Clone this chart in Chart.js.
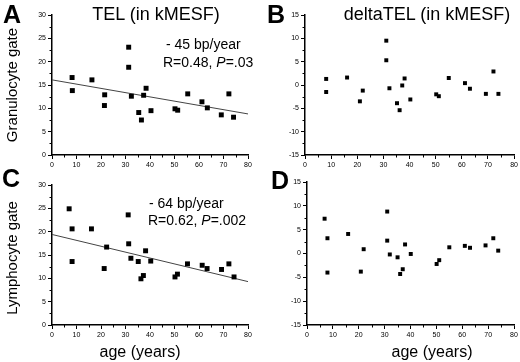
<!DOCTYPE html>
<html>
<head>
<meta charset="utf-8">
<script src="https://cdn.jsdelivr.net/npm/chart.js@4"></script>
<style>
    body { margin: 0; background: #fff; }
    #page { position: relative; width: 520px; height: 362px; overflow: hidden; font-family: "Liberation Sans", Arial, sans-serif; color: #000; }
    .panel { position: absolute; }
    .txt { position: absolute; white-space: nowrap; line-height: 1; }
    .letter { font-weight: bold; font-size: 25px; }
    .title { font-size: 18px; transform: translateX(-50%); }
    .note { font-size: 14px; }
    .ytitle { font-size: 15px; transform: translate(-50%, -50%) rotate(-90deg); }
    .xtitle { font-size: 16px; transform: translateX(-50%); }
</style>
</head>
<body>
<div id="page">
    <div class="panel" style="left:0;top:0;width:260px;height:170px"><canvas id="chartA"></canvas></div>
    <div class="panel" style="left:260px;top:0;width:260px;height:170px"><canvas id="chartB"></canvas></div>
    <div class="panel" style="left:0;top:170px;width:260px;height:192px"><canvas id="chartC"></canvas></div>
    <div class="panel" style="left:260px;top:170px;width:260px;height:192px"><canvas id="chartD"></canvas></div>

    <div class="txt letter" style="left:3px;top:2px">A</div>
    <div class="txt letter" style="left:267px;top:2px">B</div>
    <div class="txt letter" style="left:2px;top:166px">C</div>
    <div class="txt letter" style="left:271px;top:168px">D</div>

    <div class="txt title" style="left:156px;top:5px">TEL (in kMESF)</div>
    <div class="txt title" style="left:427px;top:5px">deltaTEL (in kMESF)</div>

    <div class="txt note" style="left:166px;top:37px">- 45 bp/year</div>
    <div class="txt note" style="left:163px;top:55px">R=0.48, <i>P</i>=.03</div>
    <div class="txt note" style="left:149px;top:196px">- 64 bp/year</div>
    <div class="txt note" style="left:148px;top:213px">R=0.62, <i>P</i>=.002</div>

    <div class="txt ytitle" style="left:11px;top:85px">Granulocyte gate</div>
    <div class="txt ytitle" style="left:11px;top:258px">Lymphocyte gate</div>

    <div class="txt xtitle" style="left:140px;top:344px">age (years)</div>
    <div class="txt xtitle" style="left:432px;top:344px">age (years)</div>
</div>
<script>
const ageA = [8.2, 8.3, 16.3, 21.4, 21.5, 31.3, 31.3, 32.4, 35.4, 36.5, 37.4, 38.4, 40.4, 50.2, 51.3, 55.4, 61.2, 63.4, 69.1, 72.2, 74.1];
const telGran = [16.6, 13.8, 16.1, 10.6, 12.9, 23.1, 18.8, 12.6, 9.1, 7.5, 12.8, 14.3, 9.5, 9.9, 9.6, 13.1, 11.4, 10.1, 8.6, 13.1, 8.1];
const fitGran = [16.1, 8.8];

const ageB = [8.1, 8.1, 16.1, 21.0, 22.1, 31.1, 31.1, 32.3, 35.2, 36.2, 37.2, 38.1, 40.3, 50.2, 51.2, 55.0, 61.2, 63.1, 69.2, 72.1, 74.0];
const deltaGran = [1.3, -1.5, 1.6, -3.5, -1.2, 9.5, 5.3, -0.7, -3.9, -5.4, -0.1, 1.4, -3.1, -2.0, -2.4, 1.5, 0.4, -0.8, -1.9, 2.9, -1.9];

const ageC = [7.0, 8.2, 8.2, 16.1, 21.3, 22.3, 31.1, 31.3, 32.2, 35.2, 36.3, 37.3, 38.2, 40.3, 50.2, 51.2, 55.3, 61.3, 63.3, 69.2, 72.2, 74.3];
const telLymph = [24.9, 20.6, 13.6, 20.6, 12.1, 16.7, 23.6, 17.4, 14.3, 13.6, 9.9, 10.6, 15.9, 13.7, 10.3, 10.9, 13.1, 12.8, 12.1, 11.9, 13.1, 10.3];
const fitLymph = [19.4, 9.3];

const ageD = [6.8, 7.9, 7.9, 15.9, 20.8, 21.9, 31.0, 31.0, 32.0, 35.0, 36.0, 37.0, 37.9, 40.1, 50.1, 51.1, 55.0, 61.0, 63.0, 69.0, 72.0, 73.9];
const deltaLymph = [7.3, 3.2, -4.0, 4.1, -3.8, 0.9, 8.8, 2.7, -0.2, -0.8, -4.3, -3.3, 1.9, -0.1, -2.2, -1.4, 1.3, 1.6, 1.2, 1.7, 3.2, 0.6];

const xRange = [0, 80];
const telRange = [0, 30];
const deltaRange = [-15, 15];

const xAxisHeight = 14;

// short ticks halfway between the labelled ones
const minorTicks = {
    id: 'minorTicks',
    afterDraw(chart) {
        const ctx = chart.ctx;
        const x = chart.scales.x, y = chart.scales.y;
        ctx.save();
        ctx.strokeStyle = '#000';
        ctx.lineWidth = 1;
        ctx.beginPath();
        for (let i = 0; i < x.ticks.length - 1; i++) {
            const px = Math.round(x.getPixelForValue((x.ticks[i].value + x.ticks[i + 1].value) / 2)) + 0.5;
            ctx.moveTo(px, x.top);
            ctx.lineTo(px, x.top + 2.5);
        }
        for (let i = 0; i < y.ticks.length - 1; i++) {
            const py = Math.round(y.getPixelForValue((y.ticks[i].value + y.ticks[i + 1].value) / 2)) + 0.5;
            ctx.moveTo(y.right, py);
            ctx.lineTo(y.right - 2.5, py);
        }
        ctx.stroke();
        ctx.restore();
    }
};

function toPoints(xs, ys) {
    return xs.map((v, i) => ({ x: v, y: ys[i] }));
}

function makeChart(id, xs, ys, fit, yRange, box) {
    const datasets = [{
        data: toPoints(xs, ys),
        pointStyle: 'rect',
        pointRadius: box.r,
        backgroundColor: '#000',
        borderColor: '#000',
        borderWidth: 0,
        showLine: false
    }];
    if (fit) {
        datasets.push({
            data: toPoints(xRange, fit),
            showLine: true,
            pointRadius: 0,
            borderColor: '#444',
            borderWidth: 1
        });
    }
    const axisCommon = {
        border: { display: true, color: '#000', width: 1.5 },
        grid: { display: true, drawOnChartArea: false, color: '#000', tickLength: 4, tickWidth: 1 },
        ticks: { color: '#000', font: { family: 'Liberation Sans', size: 7 }, padding: 2, maxRotation: 0 }
    };
    new Chart(document.getElementById(id), {
        type: 'scatter',
        data: { datasets: datasets },
        options: {
            responsive: true,
            maintainAspectRatio: false,
            animation: false,
            events: [],
            layout: { padding: { left: 0, top: box.top, right: box.right, bottom: box.bottom - xAxisHeight } },
            plugins: { legend: { display: false }, tooltip: { enabled: false } },
            scales: {
                x: Object.assign({}, axisCommon, {
                    type: 'linear', min: xRange[0], max: xRange[1],
                    ticks: Object.assign({}, axisCommon.ticks, { stepSize: 10 }),
                    afterFit: s => { s.height = xAxisHeight; }
                }),
                y: Object.assign({}, axisCommon, {
                    type: 'linear', min: yRange[0], max: yRange[1],
                    ticks: Object.assign({}, axisCommon.ticks, { stepSize: 5 }),
                    afterFit: s => { s.width = box.left; }
                })
            }
        },
        plugins: [minorTicks]
    });
}

makeChart('chartA', ageA, telGran, fitGran, telRange, { left: 52, top: 15, right: 12, bottom: 15, r: 3.5 });
makeChart('chartB', ageB, deltaGran, null, deltaRange, { left: 45, top: 15, right: 5, bottom: 15, r: 2.8 });
makeChart('chartC', ageC, telLymph, fitLymph, telRange, { left: 52, top: 15, right: 12, bottom: 37, r: 3.5 });
makeChart('chartD', ageD, deltaLymph, null, deltaRange, { left: 47, top: 12, right: 6, bottom: 37, r: 2.8 });
</script>
</body>
</html>
